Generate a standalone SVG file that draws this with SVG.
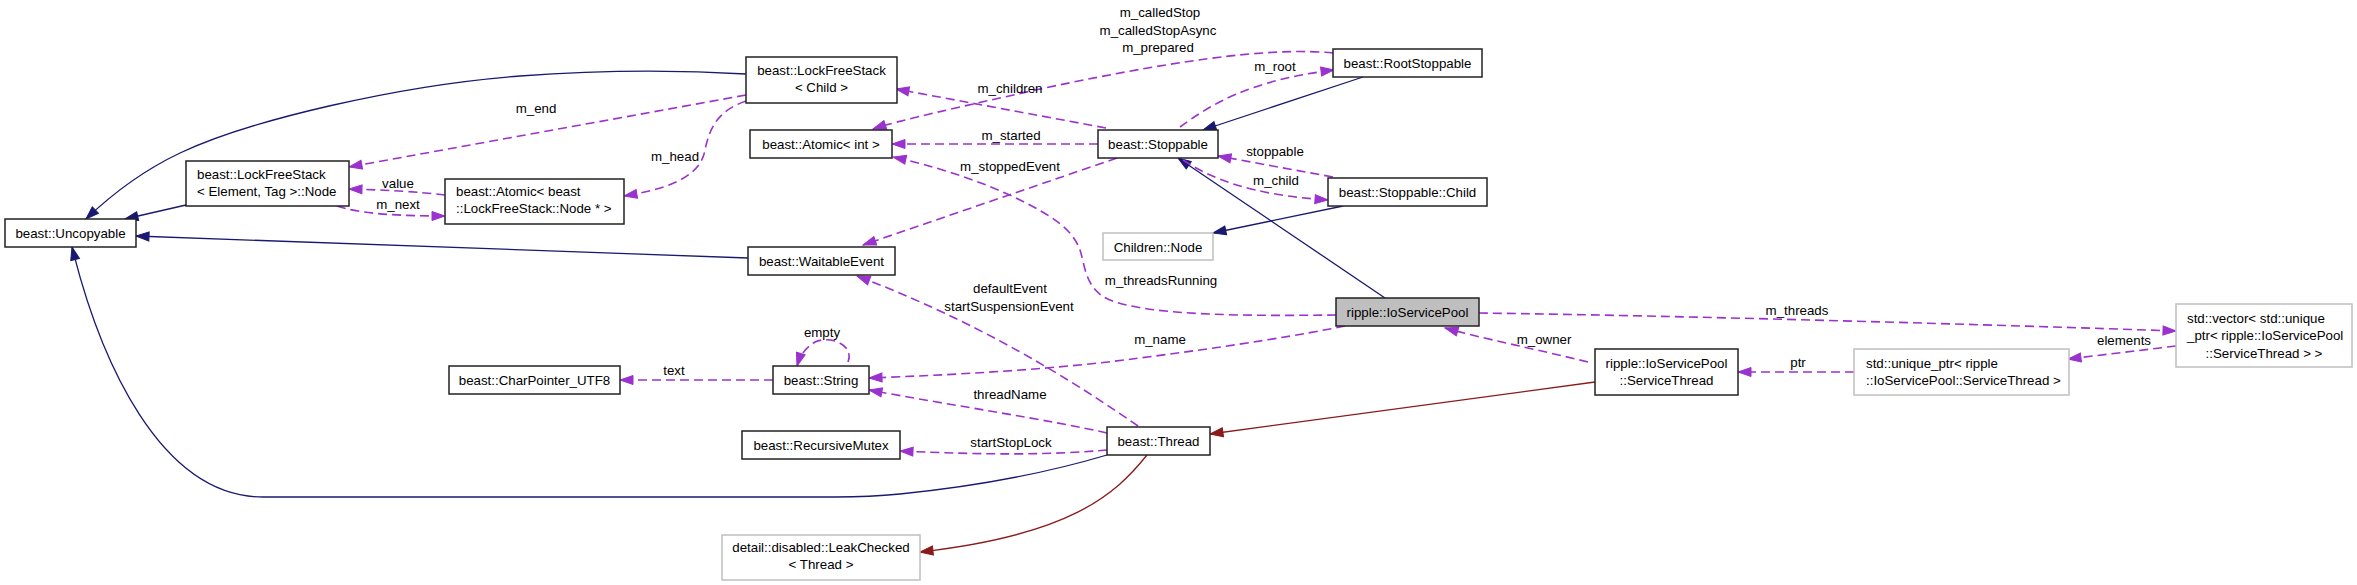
<svg xmlns="http://www.w3.org/2000/svg" width="2357" height="585" viewBox="0 0 2357 585">
<style>
text{font-family:"Liberation Sans",Arial,sans-serif;font-size:13.3px;fill:#000}
.c{text-anchor:middle}
.n rect{fill:#fff;stroke:#222;stroke-width:1.5}
.g rect{fill:#fff;stroke:#bfbfbf;stroke-width:1.5}
.b{fill:none;stroke:#191970;stroke-width:1.3;marker-end:url(#ab)}
.r{fill:none;stroke:#8b1a1a;stroke-width:1.3;marker-end:url(#ar)}
.p{fill:none;stroke:#9a32cd;stroke-width:1.6;stroke-dasharray:9,5;marker-end:url(#ap)}
</style>
<defs>
<marker id="ab" markerUnits="userSpaceOnUse" markerWidth="16" markerHeight="12" refX="14" refY="6" orient="auto"><path d="M1,1.5 L14,6 L1,10.5 z" fill="#191970" stroke="#191970"/></marker>
<marker id="ar" markerUnits="userSpaceOnUse" markerWidth="16" markerHeight="12" refX="14" refY="6" orient="auto"><path d="M1,1.5 L14,6 L1,10.5 z" fill="#8b1a1a" stroke="#8b1a1a"/></marker>
<marker id="ap" markerUnits="userSpaceOnUse" markerWidth="16" markerHeight="12" refX="14" refY="6" orient="auto"><path d="M1,1.5 L14,6 L1,10.5 z" fill="#9a32cd" stroke="#9a32cd"/></marker>
</defs>
<rect width="2357" height="585" fill="#fff"/>
<g id="connectors">
<path class="b" d="M746,74 C680,70 600,70 520,76 C400,85 250,120 180,153 C140,172 110,196 86,219"/>
<path class="b" d="M186,205 L125,219"/>
<path class="b" d="M748,258 L136,236"/>
<path class="b" d="M1107,455 C1070,466 1000,484 900,494 C870,497 850,497 836,497 L263,497 C160,497 100,360 72,247"/>
<path class="b" d="M1363,77 L1203,130"/>
<path class="b" d="M1385,298 L1178,158"/>
<path class="b" d="M1343,206 L1213,233"/>
<path class="r" d="M1595,382 L1210,434"/>
<path class="r" d="M1147,455 C1115,495 1070,535 920,552"/>
<path class="p" d="M746,95 L349,167"/>
<path class="p" d="M746,101 C720,110 710,125 705,150 C700,180 660,190 624,196"/>
<path class="p" d="M445,195 C420,192 390,190 349,189"/>
<path class="p" d="M337,206 C360,214 400,216 445,216"/>
<path class="p" d="M1106,128 L896,89"/>
<path class="p" d="M1333,53 C1280,48 1200,55 1040,89 C960,107 900,120 873,129"/>
<path class="p" d="M1180,127 C1210,105 1250,80 1334,70"/>
<path class="p" d="M1098,144 L892,144"/>
<path class="p" d="M1117,158 L863,245"/>
<path class="p" d="M1336,315 C1250,316 1150,316 1110,300 C1085,290 1085,265 1080,250 C1072,228 1050,215 1020,200 C980,180 930,165 893,157"/>
<path class="p" d="M1345,326 C1300,335 1240,345 1140,358 C1050,370 950,375 869,378"/>
<path class="p" d="M1588,362 C1540,350 1480,338 1445,328"/>
<path class="p" d="M1479,313 C1700,316 2000,325 2176,331"/>
<path class="p" d="M1854,372 L1738,372"/>
<path class="p" d="M2176,346 L2068,359"/>
<path class="p" d="M1333,177 L1218,156"/>
<path class="p" d="M1183,160 C1210,178 1250,195 1328,200"/>
<path class="p" d="M1138,426 C1100,400 1000,330 857,276"/>
<path class="p" d="M1107,433 C1050,420 950,405 869,390"/>
<path class="p" d="M1107,450 C1050,455 990,455 900,451"/>
<path class="p" d="M773,380 L620,380"/>
<path class="p" d="M848,362 C855,345 830,335 815,342 C805,348 800,356 797,366"/>
<text class="c" x="536" y="113">m_end</text>
<text class="c" x="675" y="161">m_head</text>
<text class="c" x="398" y="188">value</text>
<text class="c" x="398" y="209">m_next</text>
<text class="c" x="674" y="375">text</text>
<text class="c" x="822" y="337">empty</text>
<text class="c" x="1010" y="93">m_children</text>
<text class="c" x="1011" y="140">m_started</text>
<text class="c" x="1010" y="171">m_stoppedEvent</text>
<text class="c" x="1160" y="17">m_calledStop</text>
<text class="c" x="1158" y="35">m_calledStopAsync</text>
<text class="c" x="1158" y="52">m_prepared</text>
<text class="c" x="1275" y="71">m_root</text>
<text class="c" x="1275" y="156">stoppable</text>
<text class="c" x="1276" y="185">m_child</text>
<text class="c" x="1161" y="285">m_threadsRunning</text>
<text class="c" x="1010" y="293">defaultEvent</text>
<text class="c" x="1009" y="311">startSuspensionEvent</text>
<text class="c" x="1160" y="344">m_name</text>
<text class="c" x="1010" y="399">threadName</text>
<text class="c" x="1011" y="447">startStopLock</text>
<text class="c" x="1544" y="344">m_owner</text>
<text class="c" x="1797" y="315">m_threads</text>
<text class="c" x="1798" y="367">ptr</text>
<text class="c" x="2124" y="345">elements</text>
</g>
<g id="uncopyable" class="n"><rect x="5" y="219" width="131" height="28"/><text class="c" x="70.5" y="238">beast::Uncopyable</text></g>
<g id="lfs_node" class="n"><rect x="186" y="161" width="163" height="45"/><text x="197" y="179">beast::LockFreeStack</text><text x="197" y="196">&lt; Element, Tag &gt;::Node</text></g>
<g id="atomic_node" class="n"><rect x="445" y="179" width="179" height="45"/><text x="456" y="196">beast::Atomic&lt; beast</text><text x="456" y="213">::LockFreeStack::Node * &gt;</text></g>
<g id="lfs_child" class="n"><rect x="746" y="57" width="151" height="46"/><text class="c" x="821.5" y="75">beast::LockFreeStack</text><text class="c" x="821.5" y="92">&lt; Child &gt;</text></g>
<g id="atomic_int" class="n"><rect x="750" y="130" width="142" height="28"/><text class="c" x="821" y="149">beast::Atomic&lt; int &gt;</text></g>
<g id="waitable" class="n"><rect x="748" y="247" width="147" height="28"/><text class="c" x="821.5" y="266">beast::WaitableEvent</text></g>
<g id="charptr" class="n"><rect x="449" y="366" width="171" height="28"/><text class="c" x="534.5" y="385">beast::CharPointer_UTF8</text></g>
<g id="string" class="n"><rect x="773" y="366" width="96" height="28"/><text class="c" x="821" y="385">beast::String</text></g>
<g id="rmutex" class="n"><rect x="742" y="431" width="158" height="28"/><text class="c" x="821" y="450">beast::RecursiveMutex</text></g>
<g id="leakchecked" class="g"><rect x="722" y="535" width="198" height="45"/><text class="c" x="821" y="552">detail::disabled::LeakChecked</text><text class="c" x="821" y="569">&lt; Thread &gt;</text></g>
<g id="stoppable" class="n"><rect x="1098" y="130" width="120" height="28"/><text class="c" x="1158" y="149">beast::Stoppable</text></g>
<g id="rootstoppable" class="n"><rect x="1333" y="49" width="149" height="28"/><text class="c" x="1407.5" y="68">beast::RootStoppable</text></g>
<g id="stoppable_child" class="n"><rect x="1328" y="178" width="159" height="28"/><text class="c" x="1407.5" y="197">beast::Stoppable::Child</text></g>
<g id="children_node" class="g"><rect x="1103" y="233" width="110" height="27"/><text class="c" x="1158" y="251.5">Children::Node</text></g>
<g id="ioservicepool" class="n"><rect x="1336" y="298" width="143" height="28" style="fill:#bfbfbf"/><text class="c" x="1407.5" y="317">ripple::IoServicePool</text></g>
<g id="thread" class="n"><rect x="1107" y="427" width="103" height="28"/><text class="c" x="1158.5" y="446">beast::Thread</text></g>
<g id="servicethread" class="n"><rect x="1595" y="349" width="143" height="46"/><text class="c" x="1666.5" y="367.5">ripple::IoServicePool</text><text class="c" x="1666.5" y="384.5">::ServiceThread</text></g>
<g id="unique_ptr" class="g"><rect x="1854" y="349" width="215" height="46"/><text x="1866" y="367.5">std::unique_ptr&lt; ripple</text><text x="1866" y="384.5">::IoServicePool::ServiceThread &gt;</text></g>
<g id="vector" class="g"><rect x="2176" y="304" width="176" height="63"/><text x="2187" y="322.5">std::vector&lt; std::unique</text><text x="2187" y="340">_ptr&lt; ripple::IoServicePool</text><text class="c" x="2264" y="357.5">::ServiceThread &gt; &gt;</text></g>
</svg>
